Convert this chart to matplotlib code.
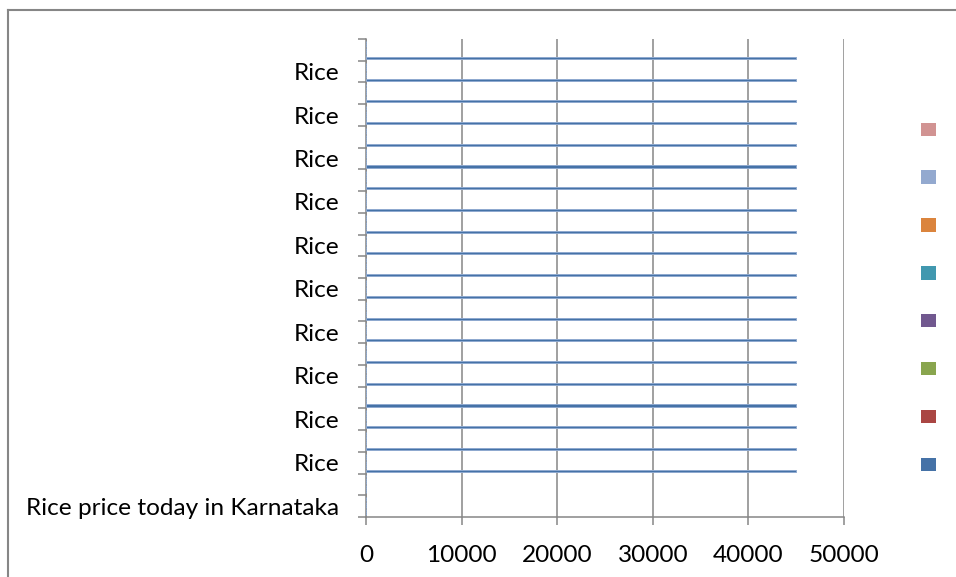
import numpy as np
import matplotlib.pyplot as plt
from matplotlib.patches import Patch
from matplotlib.lines import Line2D

plt.rcParams['font.family'] = ['Lato', 'DejaVu Sans']

# categories, bottom to top
categories = ['Rice price today in Karnataka'] + ['Rice'] * 21
# series values (only the first series carries data)
series_values = [
    [0, 0] + [45000] * 20,
    [0] * 22, [0] * 22, [0] * 22, [0] * 22, [0] * 22, [0] * 22, [0] * 22,
]
series_colors = ['#4572A7', '#AA4643', '#89A54E', '#71588F',
                 '#4198AF', '#DB843D', '#93A9CF', '#D19392']
x_ticks = [0, 10000, 20000, 30000, 40000, 50000]

grey = '#868686'
W, H = 956, 577
fig = plt.figure(figsize=(W / 100, H / 100), dpi=100)
ax = fig.add_axes([366 / W, 1 - 517 / H, (844 - 366) / W, (517 - 39) / H])

n_cat = len(categories)
n_ser = len(series_values)
gap = 1.5
bar_h = 1.0 / (n_ser + gap)
ypos = np.arange(n_cat)
for s, (vals, col) in enumerate(zip(series_values, series_colors)):
    offs = gap / 2 * bar_h + bar_h * (s + 0.5)
    ax.barh(ypos + offs, vals, height=bar_h * 0.9, color=col,
            edgecolor='#8FA9CF', linewidth=0.7, zorder=3)

ax.set_xlim(0, 50000)
ax.set_ylim(0, n_cat)

ax.set_xticks(x_ticks)
ax.set_xticklabels([str(v) for v in x_ticks])
ax.xaxis.grid(True, color=grey, linewidth=1.1, zorder=1)

# boundaries between categories get the tick marks, labels sit in the middle
ax.set_yticks(np.arange(n_cat + 1))
ax.set_yticklabels([])
ax.set_yticks(ypos[::2] + 0.5, minor=True)
ax.set_yticklabels(categories[::2], minor=True)

ax.tick_params(axis='both', which='major', length=6, width=1.1, color=grey,
               labelsize=17.6, direction='out')
ax.tick_params(axis='x', pad=14)
ax.tick_params(axis='y', which='minor', length=0, pad=19, labelsize=17.6)

for side in ['top', 'right']:
    ax.spines[side].set_visible(False)
for side in ['left', 'bottom']:
    ax.spines[side].set_color(grey)
    ax.spines[side].set_linewidth(1.1)

handles = [Patch(facecolor=c, edgecolor='none') for c in series_colors[::-1]]
fig.legend(handles, [''] * n_ser, loc='center',
           bbox_to_anchor=(928.5 / W, 1 - 297.5 / H), frameon=False,
           fontsize=10.8, handlelength=1, handleheight=1, handletextpad=0,
           labelspacing=2.2, borderpad=0, borderaxespad=0)

# chart area border
fig.add_artist(Line2D([8 / W, 1], [1 - 10 / H] * 2, color=grey, linewidth=1.5))
fig.add_artist(Line2D([8 / W] * 2, [0, 1 - 10 / H], color=grey, linewidth=1.5))

fig.savefig('out.png', dpi=100)
